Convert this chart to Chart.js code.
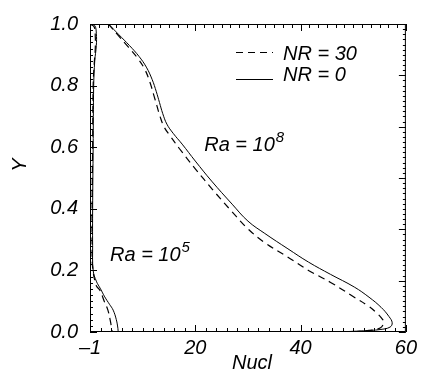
<!DOCTYPE html>
<html><head><meta charset="utf-8">
<script src="https://cdn.jsdelivr.net/npm/chart.js@4"></script>
<style>html,body{margin:0;padding:0;background:#fff}#wrap{width:421px;height:370px}</style>
</head><body><div id="wrap"><canvas id="c" width="421" height="370"></canvas></div>
<script>
// ---- axis ticks ----
const xTickValues = [0, 20, 40, 60];
const xTickLabels = ['–1', '20', '40', '60'];
const yTickValues = [0, 0.2, 0.4, 0.6, 0.8, 1.0];
const yTickLabels = ['0.0', '0.2', '0.4', '0.6', '0.8', '1.0'];
const seriesNames = ['NR = 30', 'NR = 0'];
const xTitle = 'Nucl';
const yTitle = 'Y';

// ---- Ra = 10^8 ----
const ra8_nr0_nu = [3.5, 5.5, 7.5, 9.3, 10.7, 11.8, 12.6, 13.2, 13.8, 14.6, 15.8, 17.5, 20, 23.1, 27, 30, 33.2, 37.6, 41.5, 45.7, 50.2, 53, 55.3, 56.8, 57.4, 57.0, 55.1, 52, 47];
const ra8_nr0_y  = [1.0, 0.965, 0.93, 0.895, 0.86, 0.82, 0.78, 0.745, 0.71, 0.675, 0.645, 0.61, 0.555, 0.49, 0.415, 0.36, 0.32, 0.27, 0.227, 0.187, 0.146, 0.113, 0.08, 0.05, 0.03, 0.016, 0.008, 0.004, 0];
const ra8_nr30_nu = [3.5, 5.4, 7.3, 9.0, 10.4, 11.4, 12.1, 12.7, 13.3, 14.1, 15.3, 17, 20, 23.2, 27, 30, 33.2, 37.6, 41.5, 45.7, 50.2, 52.8, 54.5, 55.6, 55.8, 55.1, 53, 49.5];
const ra8_nr30_y  = [1.0, 0.962, 0.925, 0.89, 0.853, 0.81, 0.77, 0.735, 0.7, 0.665, 0.635, 0.595, 0.53, 0.464, 0.39, 0.335, 0.29, 0.243, 0.2, 0.161, 0.113, 0.085, 0.061, 0.04, 0.03, 0.013, 0.005, 0];

// ---- Ra = 10^5 ----
const ra5_nr0_nu = [0, 0.9, 1.2, 1.2, 0.9, 0.7, 0.6, 0.5, 0.5, 0.6, 1.2, 2.0, 2.8, 3.7, 4.4, 5.0, 5.3, 5.35];
const ra5_nr0_y  = [1.0, 0.995, 0.97, 0.93, 0.88, 0.8, 0.6, 0.4, 0.28, 0.2, 0.165, 0.14, 0.114, 0.09, 0.071, 0.04, 0.012, 0];
const ra5_nr30_nu = [0, 0.8, 1.0, 1.0, 0.8, 0.6, 0.5, 0.4, 0.4, 0.5, 1.2, 1.9, 2.7, 3.4, 3.9, 4.1, 4.2];
const ra5_nr30_y  = [1.0, 0.99, 0.96, 0.92, 0.87, 0.8, 0.6, 0.4, 0.28, 0.21, 0.15, 0.135, 0.1, 0.071, 0.033, 0.012, 0];

const zip = (xs, ys) => xs.map((v, i) => ({x: v, y: ys[i]}));
const FONT = '"Liberation Sans", Arial, sans-serif';

function lineDs(label, xs, ys, dashed, inLegend) {
  return {
    label, data: zip(xs, ys), showLine: true, fill: false,
    borderColor: '#000', borderWidth: dashed ? 1.2 : 1,
    borderDash: dashed ? [7, 5] : [], pointRadius: 0, tension: 0.4,
    inLegend
  };
}

const framePlugin = {
  id: 'frame',
  afterDatasetsDraw(chart) {
    const {ctx, chartArea: a, scales: {x, y}} = chart;
    ctx.save();
    ctx.strokeStyle = '#000'; ctx.lineWidth = 1; ctx.setLineDash([]);
    ctx.strokeRect(a.left + 0.5, a.top + 0.5, a.right - a.left - 1, a.bottom - a.top - 1);
    ctx.beginPath();
    for (let i = 0; i <= 30; i++) {
      const px = Math.round(x.getPixelForValue(i * 2)) + 0.5;
      const len = (i % 10 === 0) ? 7 : 4;
      ctx.moveTo(px, a.bottom); ctx.lineTo(px, a.bottom - len);
    }
    for (let i = 0; i <= 36; i++) {
      const px = Math.round(x.getPixelForValue(i * 20 / 12)) + 0.5;
      const len = (i % 12 === 0) ? 7 : 4;
      ctx.moveTo(px, a.top); ctx.lineTo(px, a.top + len);
    }
    for (let i = 0; i <= 50; i++) {
      const py = Math.round(y.getPixelForValue(i * 0.02)) + 0.5;
      const len = (i % 10 === 0) ? 7 : 3;
      ctx.moveTo(a.left, py); ctx.lineTo(a.left + len, py);
    }
    for (let i = 0; i <= 60; i++) {
      const py = Math.round(y.getPixelForValue(i / 60)) + 0.5;
      const len = (i % 10 === 0) ? 7 : 3;
      ctx.moveTo(a.right, py); ctx.lineTo(a.right - len, py);
    }
    ctx.stroke();

    const items = chart.data.datasets.filter(d => d.inLegend);
    const ly = [52, 79], lb = [60, 80.5];
    ctx.font = 'italic 20px ' + FONT; ctx.fillStyle = '#000';
    ctx.textBaseline = 'alphabetic'; ctx.textAlign = 'left';
    items.forEach((d, i) => {
      ctx.beginPath();
      ctx.lineWidth = d.borderWidth;
      ctx.setLineDash(d.borderDash);
      ctx.moveTo(236, ly[i] + 0.5); ctx.lineTo(273, ly[i] + 0.5);
      ctx.stroke();
      ctx.setLineDash([]);
      ctx.fillText(d.label, 283, lb[i]);
    });

    const ra = (txt, sup, vx, vy) => {
      const px = x.getPixelForValue(vx), py = y.getPixelForValue(vy);
      ctx.font = 'italic 20px ' + FONT;
      ctx.fillText(txt, px, py);
      const w = ctx.measureText(txt).width;
      ctx.font = 'italic 15px ' + FONT;
      ctx.fillText(sup, px + w + 1, py - 9);
    };
    ra('Ra = 10', '8', 21.7, 0.587);
    ra('Ra = 10', '5', 3.8, 0.232);

    ctx.font = 'italic 20px ' + FONT;
    ctx.textAlign = 'center';
    ctx.fillText(xTitle, 252, 369);
    ctx.save();
    ctx.translate(26, 165);
    ctx.rotate(-Math.PI / 2);
    ctx.fillText(yTitle, 0, 0);
    ctx.restore();
    ctx.restore();
  }
};

new Chart(document.getElementById('c'), {
  type: 'scatter',
  data: {
    datasets: [
      lineDs(seriesNames[0], ra8_nr30_nu, ra8_nr30_y, true, true),
      lineDs(seriesNames[1], ra8_nr0_nu, ra8_nr0_y, false, true),
      lineDs(seriesNames[0] + ' (Ra=1e5)', ra5_nr30_nu, ra5_nr30_y, true, false),
      lineDs(seriesNames[1] + ' (Ra=1e5)', ra5_nr0_nu, ra5_nr0_y, false, false)
    ]
  },
  options: {
    responsive: false, devicePixelRatio: 1, animation: false,
    layout: {padding: {top: 22, right: 12, left: 0, bottom: 0}},
    plugins: {legend: {display: false}, tooltip: {enabled: false}},
    scales: {
      x: {
        type: 'linear', min: 0, max: 60,
        afterBuildTicks: s => { s.ticks = xTickValues.map(v => ({value: v})); },
        afterFit: s => { s.height = 38; },
        grid: {display: false, drawTicks: false}, border: {display: false},
        ticks: {
          autoSkip: false, maxRotation: 0, padding: 4, color: '#000',
          font: {family: FONT, size: 20, style: 'italic'},
          callback: v => xTickLabels[xTickValues.indexOf(v)]
        }
      },
      y: {
        type: 'linear', min: 0, max: 1,
        afterBuildTicks: s => { s.ticks = yTickValues.map(v => ({value: v})); },
        afterFit: s => { s.width = 90; },
        grid: {display: false, drawTicks: false}, border: {display: false},
        ticks: {
          autoSkip: false, padding: 12, color: '#000',
          font: {family: FONT, size: 20, style: 'italic'},
          callback: v => yTickLabels[yTickValues.findIndex(t => Math.abs(t - v) < 1e-9)]
        }
      }
    }
  },
  plugins: [framePlugin]
});
</script></body></html>
